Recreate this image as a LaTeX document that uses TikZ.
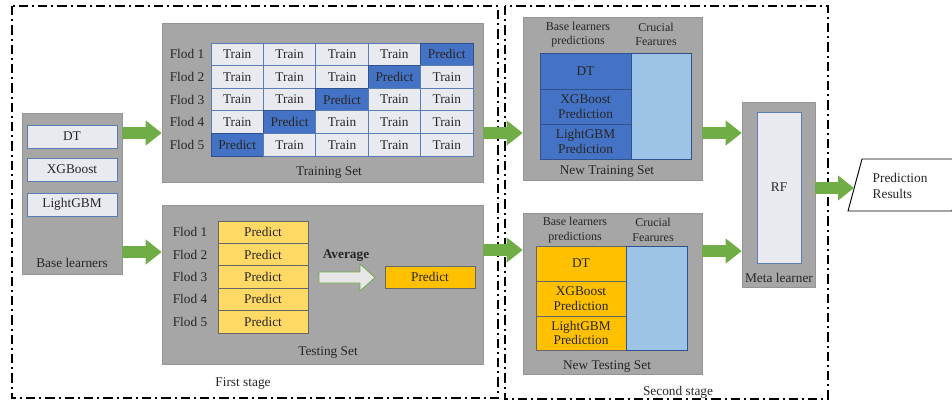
\documentclass[tikz,border=0pt]{standalone}
\usepackage{fontspec}
\setmainfont{Liberation Serif}
\usetikzlibrary{arrows.meta,fit,calc}
\definecolor{boxgray}{HTML}{A6A6A6}
\definecolor{cellfill}{HTML}{E9EAF0}
\definecolor{cellline}{HTML}{5B7DB5}
\definecolor{pblue}{HTML}{4472C4}
\definecolor{pblueline}{HTML}{2F528F}
\definecolor{pyellow}{HTML}{FFD966}
\definecolor{porange}{HTML}{FFC000}
\definecolor{lblue}{HTML}{9DC3E6}
\definecolor{agreen}{HTML}{70AD47}
\definecolor{avgfill}{HTML}{E7E6E6}
\definecolor{txt}{HTML}{262626}
% \cellbox{style}{name}{x1,y1}{x2,y2}{text}
\newcommand\cellbox[5]{%
  \node[#1, fit={(#3) (#4)}] (#2) {};
  \node[align=center, inner sep=0pt, font=\fontsize{10}{11}\selectfont] (#2-t) at (#2.center) {#5};
}
\begin{document}
\begin{tikzpicture}[x=0.75pt,y=-0.75pt,
  font=\fontsize{10}{12}\selectfont, text=txt,
  gbox/.style={fill=boxgray, draw=boxgray!90!black, line width=0.4pt, inner sep=0pt},
  cell/.style={fill=cellfill, draw=cellline, line width=0.5pt, inner sep=0pt},
  pcell/.style={fill=pblue, draw=pblueline, line width=0.5pt, inner sep=0pt},
  ycell/.style={fill=pyellow, draw=black!60, line width=0.5pt, inner sep=0pt},
  ocell/.style={fill=porange, draw=black!60, line width=0.5pt, inner sep=0pt},
  bcell/.style={fill=pblue, draw=pblueline, line width=0.5pt, inner sep=0pt},
  lbcell/.style={fill=lblue, draw=pblueline, line width=0.5pt, inner sep=0pt},
  garrow/.style={draw=agreen, line width=9pt, -{Triangle[length=12pt 0 0, width=18pt 0 0]}},
  stageline/.style={draw=black, line width=1.5pt, dash pattern=on 7pt off 3pt on 1.5pt off 3pt},
  hdr/.style={font=\fontsize{9}{11}\selectfont, align=center},
]
\useasboundingbox (0,0) rectangle (952,405);

% stage frames
\draw[stageline] (12,6) rectangle (498,398);
\draw[stageline] (505,6) rectangle (828,399);
\node (first) at (243,384) {First stage};
\node (second) at (678,392) {Second stage};

% base learners
\node[gbox, fit={(22,113) (122,274)}] (base) {};
\cellbox{cell}{dt}{27,125}{117,148}{DT}
\cellbox{cell}{xgb}{27,158}{117,181}{XGBoost}
\cellbox{cell}{lgb}{27,193}{117,216}{LightGBM}
\node (baselbl) at (72,263) {Base learners};

% training set
\node[gbox, fit={(162,23) (483,182)}] (train) {};
\foreach \r in {1,...,5}{
  \pgfmathsetmacro\ya{43+(\r-1)*22.6}
  \pgfmathsetmacro\yb{\ya+22.6}
  \pgfmathsetmacro\yc{\ya+11.3}
  \node (trf\r) at (187,\yc) {Flod \r};
  \foreach \c in {1,...,5}{
    \pgfmathsetmacro\xa{211+(\c-1)*52.4}
    \pgfmathsetmacro\xb{\xa+52.4}
    \pgfmathtruncatemacro\pc{6-\r}
    \ifnum\c=\pc
      \cellbox{pcell}{tr-\r-\c}{\xa,\ya}{\xb,\yb}{Predict}
    \else
      \cellbox{cell}{tr-\r-\c}{\xa,\ya}{\xb,\yb}{Train}
    \fi
  }
}
\node (trainlbl) at (329,173) {Training Set};

% testing set
\node[gbox, fit={(162,205) (483,364)}] (test) {};
\foreach \r in {1,...,5}{
  \pgfmathsetmacro\ya{221+(\r-1)*22.4}
  \pgfmathsetmacro\yb{\ya+22.4}
  \pgfmathsetmacro\yc{\ya+11.2}
  \node (tef\r) at (190,\yc) {Flod \r};
  \cellbox{ycell}{te-\r}{218,\ya}{308,\yb}{Predict}
}
\node[font=\fontsize{10}{12}\selectfont\bfseries] (avglbl) at (346,256) {Average};
\draw[fill=avgfill, draw=agreen, line width=0.6pt]
  (319,272) -- (360,272) -- (360,264) -- (375,277.5) -- (360,291) -- (360,283) -- (319,283) -- cycle;
\cellbox{ocell}{avgp}{385,266}{475,288}{Predict}
\node (testlbl) at (328,353) {Testing Set};

% new training set
\node[gbox, fit={(523,17) (702,180)}] (ntrain) {};
\node[hdr] (ntrh1) at (578,34.5) {Base learners\\predictions};
\node[hdr] (ntrh2) at (656,34.5) {Crucial\\Fearures};
\cellbox{bcell}{ntdt}{540,53}{631,89}{DT}
\cellbox{bcell}{ntxgb}{540,89}{631,124}{XGBoost\\Prediction}
\cellbox{bcell}{ntlgb}{540,124}{631,159}{LightGBM\\Prediction}
\node[lbcell, fit={(631,53) (691,159)}] (ntcf) {};
\node (ntrainlbl) at (607,172) {New Training Set};

% new testing set
\node[gbox, fit={(523,213) (702,374)}] (ntest) {};
\node[hdr] (nteh1) at (575,230) {Base learners\\predictions};
\node[hdr] (nteh2) at (653,230) {Crucial\\Fearures};
\cellbox{ocell}{nedt}{536,246}{626,281}{DT}
\cellbox{ocell}{nexgb}{536,281}{626,316}{XGBoost\\Prediction}
\cellbox{ocell}{nelgb}{536,316}{626,350}{LightGBM\\Prediction}
\node[lbcell, fit={(626,246) (687,350)}] (necf) {};
\node (ntestlbl) at (607,367) {New Testing Set};

% meta learner
\node[gbox, fit={(742,102) (815,287)}] (meta) {};
\cellbox{cell}{rf}{757,112}{801,263}{RF}
\node (metalbl) at (779,278) {Meta learner};

% output
\begin{scope}
\clip (0,0) rectangle (952,405);
\draw[fill=white, line width=0.7pt] (848,211) -- (862,159) -- (966,159) -- (952,211) -- cycle;
\end{scope}
\coordinate (outw) at (854,188);
\node[align=left, anchor=west, font=\fontsize{10}{12}\selectfont] (outtxt) at (868,186) {Prediction\\Results};

% green arrows
\draw[garrow] (base.east |- 0,133) -- (train.west |- 0,133);
\draw[garrow] (base.east |- 0,252) -- (test.west |- 0,252);
\draw[garrow] (train.east |- 0,133) -- (ntrain.west |- 0,133);
\draw[garrow] (test.east |- 0,250) -- (ntest.west |- 0,250);
\draw[garrow] (ntrain.east |- 0,133) -- (meta.west |- 0,133);
\draw[garrow] (ntest.east |- 0,251) -- (meta.west |- 0,251);
\draw[garrow] (meta.east |- 0,188) -- (outw);
\end{tikzpicture}
\end{document}
